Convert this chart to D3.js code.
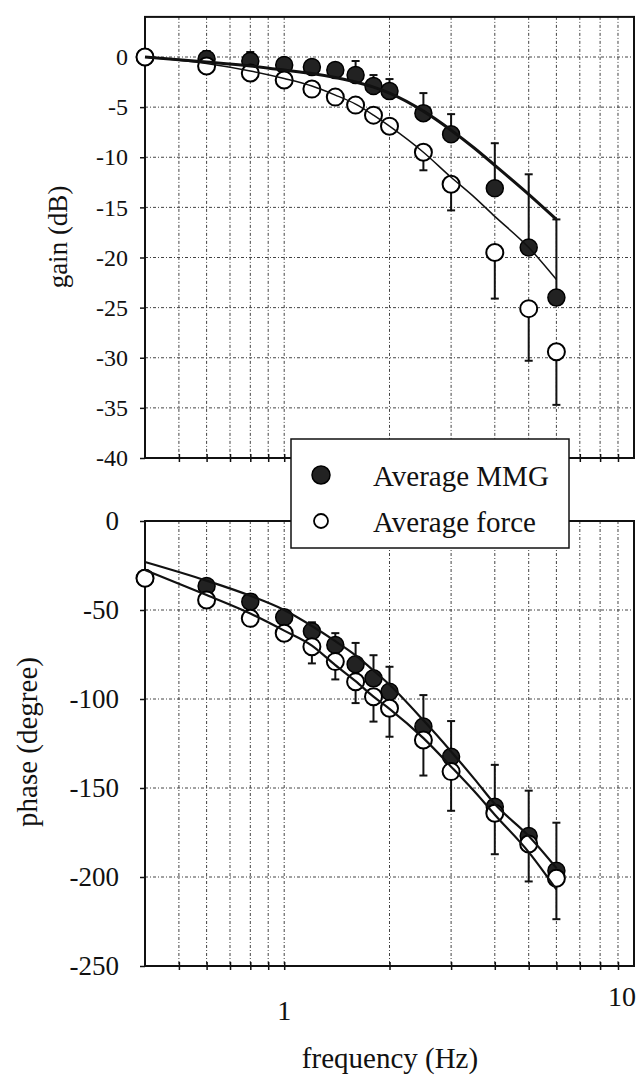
<!DOCTYPE html>
<html><head><meta charset="utf-8">
<script src="https://cdn.jsdelivr.net/npm/d3@7"></script>
<style>
body{margin:0;background:#fff}
svg{display:block}
text{font-family:"Liberation Serif","Times New Roman",Times,serif;fill:#111}
</style>
</head><body>
<svg id="c" width="636" height="1082"></svg>
<script>
// ---- data ----
const freq = [0.4, 0.6, 0.8, 1.0, 1.2, 1.4, 1.6, 1.8, 2.0, 2.5, 3, 4, 5, 6];
const mmgGain   = [0, -0.2, -0.4, -0.8, -1.0, -1.3, -1.8, -2.9, -3.4, -5.6, -7.7, -13.1, -19.0, -24.0];
const mmgGainSD = [0, 0.8, 0.9, 0.7, 0.6, 0.7, 1.4, 1.1, 1.2, 2.0, 2.0, 4.5, 7.3, 7.8];
const forceGain   = [0, -0.9, -1.6, -2.3, -3.2, -4.0, -4.8, -5.8, -6.9, -9.5, -12.7, -19.5, -25.1, -29.4];
const forceGainSD = [0, 0.4, 0.5, 0.5, 0.5, 0.5, 0.5, 0.6, 0.7, 1.8, 2.6, 4.6, 5.2, 5.3];
const mmgPhase   = [-32, -36.5, -45.3, -54.1, -61.9, -69.7, -80.5, -88.4, -95.9, -115.5, -132.4, -160.5, -177, -196.5];
const mmgPhaseSD = [0, 3, 4, 4, 5, 6.7, 12, 13, 14, 17.7, 20, 23.5, 25.5, 27];
const forcePhase   = [-32.2, -44.4, -54.7, -63.1, -70.6, -79, -90.3, -98.7, -105.2, -123, -140.8, -164.2, -181.5, -200.7];
const forcePhaseSD = [0, 3, 3.7, 4, 9.4, 10, 12, 14, 16, 20, 22, 23, 21, 23];

// fitted model curves (sampled from the figure)
const fitFreq = [0.4, 0.6, 0.8, 1.0, 1.2, 1.4, 1.6, 1.8, 2.0, 2.5, 3, 3.5, 4, 5, 6];
const mmgGainFit   = [0, -0.5, -0.9, -1.3, -1.65, -2.05, -2.5, -3.0, -3.6, -5.4, -7.3, -9.1, -10.8, -13.7, -16.2];
const forceGainFit = [0, -0.65, -1.4, -2.15, -2.9, -3.8, -4.7, -5.8, -6.9, -9.5, -12.0, -14.0, -15.9, -19.0, -22.2];
const mmgPhaseFit   = [-23, -33.5, -42, -50, -59, -67.5, -75.5, -84, -92, -112, -129.5, -145, -159, -177, -195];
const forcePhaseFit = [-27.5, -41.6, -52, -61.6, -70, -81, -90, -98.7, -105.5, -122, -138, -152, -165, -186, -207];

const gainTicks  = [0, -5, -10, -15, -20, -25, -30, -35, -40];
const phaseTicks = [0, -50, -100, -150, -200, -250];
const freqGrid   = [0.5, 0.6, 0.7, 0.8, 0.9, 1, 2, 3, 4, 5, 6, 7, 8, 9];
const freqLabels = [1, 10];
const seriesNames = ["Average MMG", "Average force"];

// ---- scales ----
const svg = d3.select('#c');
const x  = d3.scaleLog().domain([0.4, 10]).range([145, 634]);
const yG = d3.scaleLinear().domain([-40, 0]).range([458, 57]);
const yP = d3.scaleLinear().domain([-250, 0]).range([966, 521]);

function drawPanel(c) {
  const y = c.y;
  const g = svg.append('g');
  const yb = y.range()[0], yt = y(c.top);
  const x0 = x.range()[0], x1 = x.range()[1];
  const dash = '3,2,1,2';
  // grid
  g.append('g').selectAll('line').data(c.ticks).join('line')
    .attr('x1', x0).attr('x2', x1).attr('y1', d => y(d)).attr('y2', d => y(d))
    .attr('stroke', '#444').attr('stroke-width', 1).attr('stroke-dasharray', dash);
  g.append('g').selectAll('line').data(freqGrid).join('line')
    .attr('x1', d => x(d)).attr('x2', d => x(d)).attr('y1', yt).attr('y2', yb)
    .attr('stroke', '#444').attr('stroke-width', 1).attr('stroke-dasharray', dash);
  // bottom crossing ticks
  const ab = g.append('g').attr('transform', `translate(0,${yb})`)
    .call(d3.axisBottom(x).tickValues(freqGrid).tickSize(4).tickFormat(''));
  const at = g.append('g').attr('transform', `translate(0,${yb})`)
    .call(d3.axisTop(x).tickValues(freqGrid).tickSize(4).tickFormat(''));
  [ab, at].forEach(a => { a.select('.domain').remove(); a.selectAll('line').attr('stroke', '#111').attr('stroke-width', 1.5); });
  // y axis
  const ay = g.append('g').attr('transform', `translate(${x0},0)`)
    .call(d3.axisLeft(y).tickValues(c.ticks).tickSize(5).tickPadding(c.pad).tickFormat(d => String(d)));
  ay.select('.domain').remove();
  ay.selectAll('line').attr('stroke', '#111').attr('stroke-width', 1.5);
  ay.selectAll('text').attr('font-size', c.fs).attr('font-family', '"Liberation Serif",serif').attr('fill', '#111');
  // frame
  g.append('rect').attr('x', x0).attr('y', yt).attr('width', x1 - x0).attr('height', yb - yt)
    .attr('fill', 'none').attr('stroke', '#111').attr('stroke-width', 2);

  const pts = freq.map((f, i) => ({f, m: c.mmg[i], ms: c.mmgSD[i], o: c.force[i], os: c.forceSD[i]}));
  // error bars: MMG upward, force downward
  const eb = g.append('g').attr('stroke', '#111').attr('stroke-width', 2);
  pts.filter(d => d.ms > 0).forEach(d => {
    eb.append('line').attr('x1', x(d.f)).attr('x2', x(d.f)).attr('y1', y(d.m)).attr('y2', y(d.m + d.ms));
    eb.append('line').attr('x1', x(d.f) - 4).attr('x2', x(d.f) + 4).attr('y1', y(d.m + d.ms)).attr('y2', y(d.m + d.ms));
  });
  pts.filter(d => d.os > 0).forEach(d => {
    eb.append('line').attr('x1', x(d.f)).attr('x2', x(d.f)).attr('y1', y(d.o)).attr('y2', y(d.o - d.os));
    eb.append('line').attr('x1', x(d.f) - 4).attr('x2', x(d.f) + 4).attr('y1', y(d.o - d.os)).attr('y2', y(d.o - d.os));
  });
  // markers
  g.append('g').selectAll('circle').data(pts).join('circle')
    .attr('cx', d => x(d.f)).attr('cy', d => y(d.m)).attr('r', 8.5)
    .attr('fill', '#222').attr('stroke', '#000').attr('stroke-width', 1.5);
  g.append('g').selectAll('circle').data(pts).join('circle')
    .attr('cx', d => x(d.f)).attr('cy', d => y(d.o)).attr('r', 8.5)
    .attr('fill', '#fff').attr('stroke', '#000').attr('stroke-width', 2);
  // fitted curves
  const line = d3.line().x(d => x(d[0])).y(d => y(d[1])).curve(d3.curveMonotoneX);
  g.append('path').datum(fitFreq.map((f, i) => [f, c.mmgFit[i]])).attr('d', line)
    .attr('fill', 'none').attr('stroke', '#111').attr('stroke-width', c.mw);
  g.append('path').datum(fitFreq.map((f, i) => [f, c.forceFit[i]])).attr('d', line)
    .attr('fill', 'none').attr('stroke', '#111').attr('stroke-width', c.fw);
}

drawPanel({y: yG, top: 4, ticks: gainTicks, fs: 24, pad: 12,
  mmg: mmgGain, mmgSD: mmgGainSD, force: forceGain, forceSD: forceGainSD,
  mmgFit: mmgGainFit, forceFit: forceGainFit, mw: 3, fw: 1.5});
drawPanel({y: yP, top: 0, ticks: phaseTicks, fs: 27, pad: 21,
  mmg: mmgPhase, mmgSD: mmgPhaseSD, force: forcePhase, forceSD: forcePhaseSD,
  mmgFit: mmgPhaseFit, forceFit: forcePhaseFit, mw: 2.2, fw: 2.2});

// x labels
svg.append('g').selectAll('text').data(freqLabels).join('text')
  .attr('x', d => d === 10 ? 636 : x(d))
  .attr('y', d => d === 10 ? 1006 : 1020)
  .attr('text-anchor', d => d === 10 ? 'end' : 'middle')
  .attr('font-size', 28).text(d => d);

// axis titles
svg.append('text').attr('transform', 'translate(67,237) rotate(-90)')
  .attr('text-anchor', 'middle').attr('font-size', 27).text('gain (dB)');
svg.append('text').attr('transform', 'translate(37,742) rotate(-90)')
  .attr('text-anchor', 'middle').attr('font-size', 29).text('phase (degree)');
svg.append('text').attr('x', 390).attr('y', 1068)
  .attr('text-anchor', 'middle').attr('font-size', 29).text('frequency (Hz)');

// legend
const lg = svg.append('g');
lg.append('rect').attr('x', 291).attr('y', 439).attr('width', 278).attr('height', 109)
  .attr('fill', '#fff').attr('stroke', '#111').attr('stroke-width', 1.5);
lg.append('circle').attr('cx', 321).attr('cy', 475).attr('r', 9)
  .attr('fill', '#222').attr('stroke', '#000').attr('stroke-width', 1.5);
lg.append('circle').attr('cx', 321).attr('cy', 521).attr('r', 7)
  .attr('fill', '#fff').attr('stroke', '#000').attr('stroke-width', 1.8);
lg.selectAll('text.l').data(seriesNames).join('text').attr('class', 'l')
  .attr('x', 373).attr('y', (d, i) => 486 + i * 46).attr('font-size', 29).text(d => d);
</script>
</body></html>
